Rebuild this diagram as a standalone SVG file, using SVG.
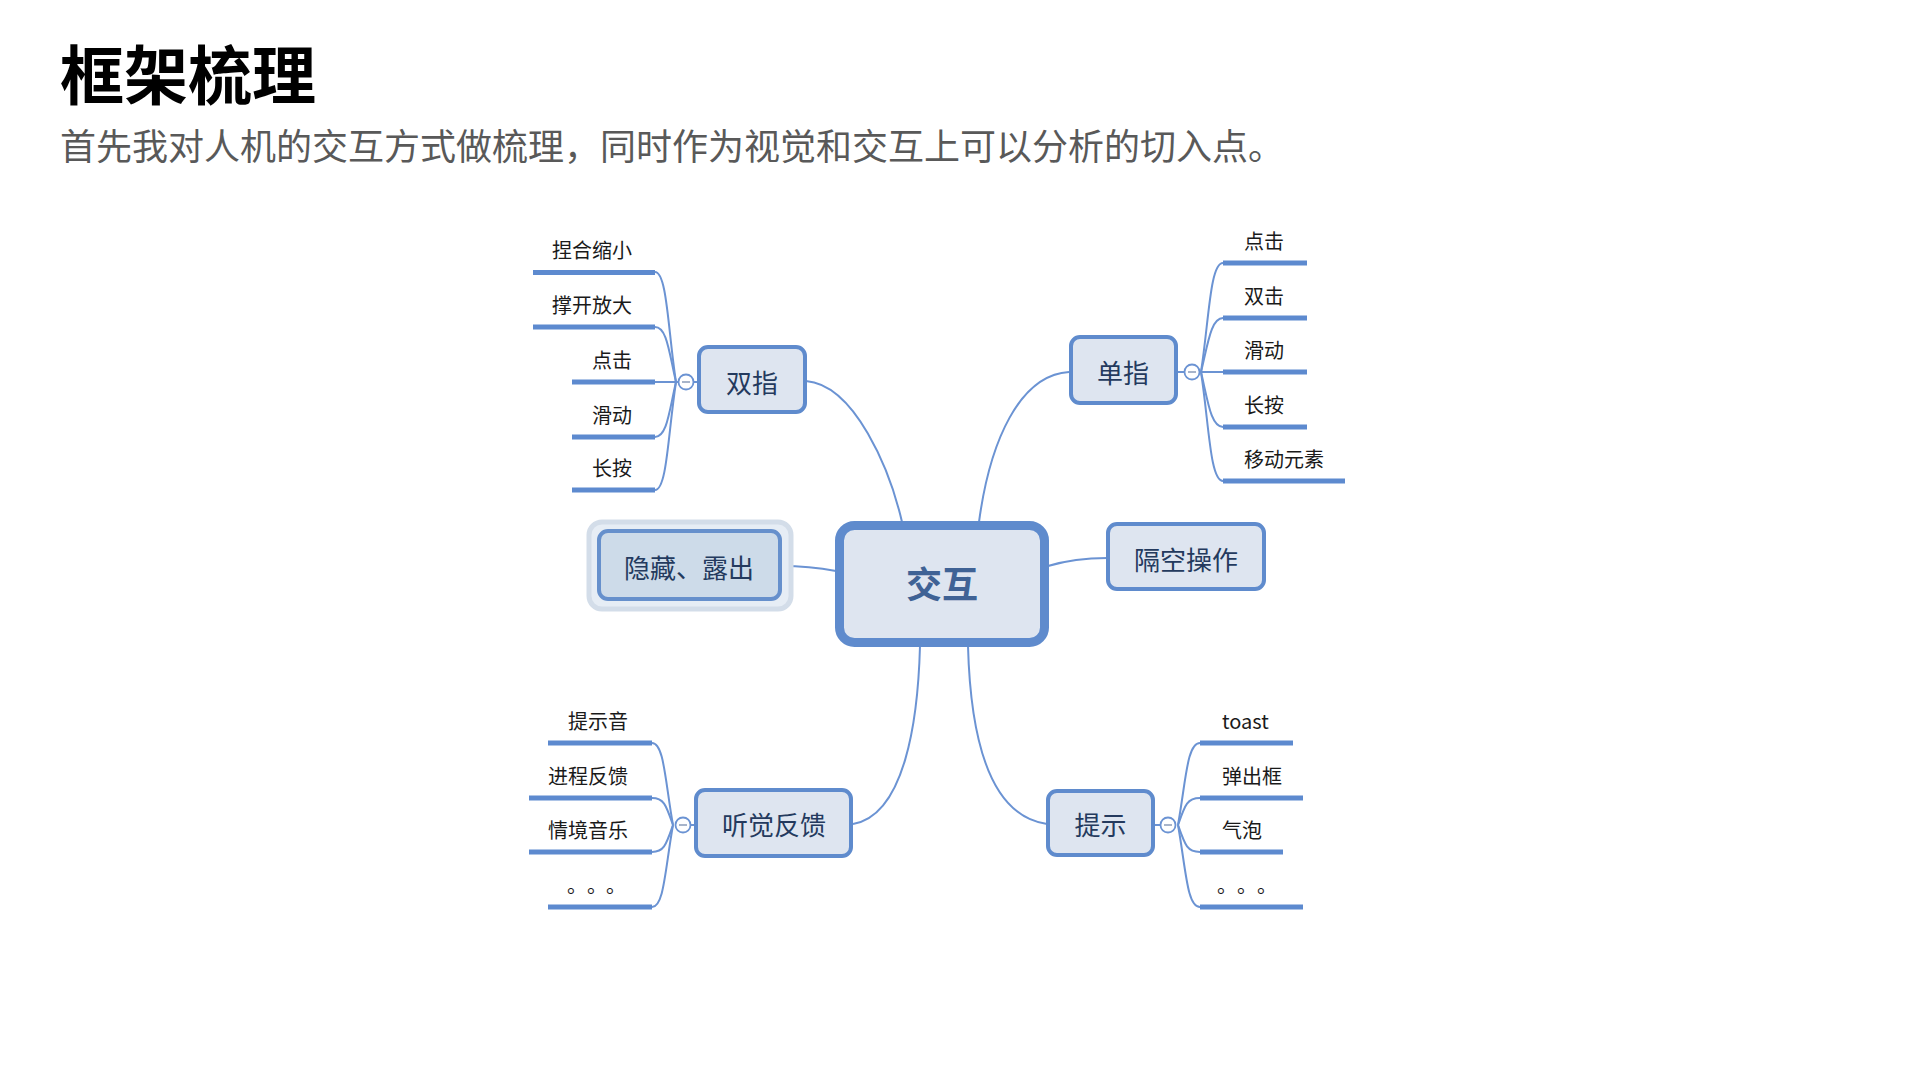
<svg xmlns="http://www.w3.org/2000/svg" width="1920" height="1080" viewBox="0 0 1920 1080">
<style>
text { font-family: "Noto Sans CJK SC", "Liberation Sans", sans-serif; }
.title { font-size: 64px; font-weight: 700; fill: #000; }
.sub { font-size: 36px; fill: #595959; }
.box { fill: #dee5f0; stroke: #5f8bcd; stroke-width: 4; }
.ntext { font-size: 26px; fill: #243a5e; text-anchor: middle; }
.leaf { font-size: 20px; fill: #1a1a1a; }
.ul { stroke: #5d8acf; stroke-width: 5; fill: none; }
.conn { stroke: #6b93d3; stroke-width: 2; fill: none; }
.fold { fill: #fff; stroke: #6b93d3; stroke-width: 1.8; }
.minus { stroke: #8a9bb8; stroke-width: 1.5; }
</style>

<text class="title" x="60" y="99">框架梳理</text>
<text class="sub" x="60" y="160">首先我对人机的交互方式做梳理，同时作为视觉和交互上可以分析的切入点。</text>

<g id="connectors">
  <path class="conn" d="M806,381 C855,385 890,470 902,522"/>
  <path class="conn" d="M979,522 C990,440 1020,375 1069,372"/>
  <path class="conn" d="M1048,566 C1068,560 1085,558 1107,558"/>
  <path class="conn" d="M781,566 C805,566 820,568 836,571"/>
  <path class="conn" d="M920,646 C918,720 905,815 853,824"/>
  <path class="conn" d="M968,646 C970,720 983,815 1047,824"/>
  <!-- 双指 fan -->
  <path class="conn" d="M694,382 L699,382"/>
  <path class="conn" d="M676,382 C668,330 667,272 655,272"/>
  <path class="conn" d="M676,382 C669,352 667,327 655,327"/>
  <path class="conn" d="M678,382 L655,382"/>
  <path class="conn" d="M676,382 C669,412 667,437 655,437"/>
  <path class="conn" d="M676,382 C668,434 667,490 655,490"/>
  <!-- 单指 fan -->
  <path class="conn" d="M1176,372 L1184,372"/>
  <path class="conn" d="M1201,372 C1209,320 1210,263 1223,263"/>
  <path class="conn" d="M1201,372 C1208,343 1211,318 1223,318"/>
  <path class="conn" d="M1200,372 L1223,372"/>
  <path class="conn" d="M1201,372 C1208,402 1211,427 1223,427"/>
  <path class="conn" d="M1201,372 C1209,424 1210,481 1223,481"/>
  <!-- 听觉反馈 fan -->
  <path class="conn" d="M691,825 L696,825"/>
  <path class="conn" d="M673,825 C665,780 664,743 652,743"/>
  <path class="conn" d="M673,825 C666,805 664,798 652,798"/>
  <path class="conn" d="M673,825 C666,845 664,852 652,852"/>
  <path class="conn" d="M673,825 C665,870 664,907 652,907"/>
  <!-- 提示 fan -->
  <path class="conn" d="M1153,825 L1160,825"/>
  <path class="conn" d="M1178,825 C1186,780 1187,743 1200,743"/>
  <path class="conn" d="M1178,825 C1185,805 1187,798 1200,798"/>
  <path class="conn" d="M1178,825 C1185,845 1187,852 1200,852"/>
  <path class="conn" d="M1178,825 C1186,870 1187,907 1200,907"/>
</g>

<g id="node-center">
  <rect x="839.5" y="525.5" width="205" height="117" rx="15" fill="#dee5f0" stroke="#5f8bcd" stroke-width="9"/>
  <text x="942" y="598" text-anchor="middle" font-size="36" font-weight="700" fill="#3f6295">交互</text>
</g>

<g id="node-shuangzhi">
  <rect class="box" x="699" y="347" width="106" height="65" rx="9"/>
  <text class="ntext" x="752" y="393">双指</text>
  <circle class="fold" cx="686" cy="382" r="7.5"/>
  <line class="minus" x1="682" y1="382" x2="690" y2="382"/>
</g>
<g id="leaf-shuangzhi">
  <line class="ul" x1="533" y1="272.5" x2="655" y2="272.5"/>
  <text class="leaf" x="632" y="258" text-anchor="end">捏合缩小</text>
  <line class="ul" x1="533" y1="327" x2="655" y2="327"/>
  <text class="leaf" x="632" y="313" text-anchor="end">撑开放大</text>
  <line class="ul" x1="572" y1="382" x2="655" y2="382"/>
  <text class="leaf" x="632" y="368" text-anchor="end">点击</text>
  <line class="ul" x1="572" y1="437" x2="655" y2="437"/>
  <text class="leaf" x="632" y="423" text-anchor="end">滑动</text>
  <line class="ul" x1="572" y1="490" x2="655" y2="490"/>
  <text class="leaf" x="632" y="476" text-anchor="end">长按</text>
</g>

<g id="node-danzhi">
  <rect class="box" x="1071" y="337" width="105" height="66" rx="9"/>
  <text class="ntext" x="1123" y="383">单指</text>
  <circle class="fold" cx="1192" cy="372" r="7.5"/>
  <line class="minus" x1="1188" y1="372" x2="1196" y2="372"/>
</g>
<g id="leaf-danzhi">
  <line class="ul" x1="1223" y1="263" x2="1307" y2="263"/>
  <text class="leaf" x="1244" y="249">点击</text>
  <line class="ul" x1="1223" y1="318" x2="1307" y2="318"/>
  <text class="leaf" x="1244" y="304">双击</text>
  <line class="ul" x1="1223" y1="372" x2="1307" y2="372"/>
  <text class="leaf" x="1244" y="358">滑动</text>
  <line class="ul" x1="1223" y1="427" x2="1307" y2="427"/>
  <text class="leaf" x="1244" y="413">长按</text>
  <line class="ul" x1="1223" y1="481" x2="1345" y2="481"/>
  <text class="leaf" x="1244" y="467">移动元素</text>
</g>

<g id="node-gekong">
  <rect class="box" x="1108" y="524" width="156" height="65" rx="9"/>
  <text class="ntext" x="1186" y="570">隔空操作</text>
</g>

<g id="node-yincang">
  <rect x="589" y="522" width="202" height="87" rx="13" fill="#e6edf5" stroke="#d3dde9" stroke-width="5"/>
  <rect x="599" y="531" width="181" height="68" rx="9" fill="#cddbe9" stroke="#6690cc" stroke-width="4"/>
  <text class="ntext" x="689" y="578" fill="#3b5478">隐藏、露出</text>
</g>

<g id="node-tingjue">
  <rect class="box" x="696" y="790" width="155" height="66" rx="9"/>
  <text class="ntext" x="774" y="835">听觉反馈</text>
  <circle class="fold" cx="683" cy="825" r="7.5"/>
  <line class="minus" x1="679" y1="825" x2="687" y2="825"/>
</g>
<g id="leaf-tingjue">
  <line class="ul" x1="548" y1="743" x2="652" y2="743"/>
  <text class="leaf" x="628" y="729" text-anchor="end">提示音</text>
  <line class="ul" x1="529" y1="798" x2="652" y2="798"/>
  <text class="leaf" x="628" y="784" text-anchor="end">进程反馈</text>
  <line class="ul" x1="529" y1="852" x2="652" y2="852"/>
  <text class="leaf" x="628" y="838" text-anchor="end">情境音乐</text>
  <line class="ul" x1="548" y1="907" x2="652" y2="907"/>
  <text class="leaf" y="893"><tspan x="567">。</tspan><tspan x="587">。</tspan><tspan x="606">。</tspan></text>
</g>

<g id="node-tishi">
  <rect class="box" x="1048" y="791" width="105" height="64" rx="9"/>
  <text class="ntext" x="1100.5" y="835">提示</text>
  <circle class="fold" cx="1168" cy="825" r="7.5"/>
  <line class="minus" x1="1164" y1="825" x2="1172" y2="825"/>
</g>
<g id="leaf-tishi">
  <line class="ul" x1="1200" y1="743" x2="1293" y2="743"/>
  <text class="leaf" x="1222" y="729">toast</text>
  <line class="ul" x1="1200" y1="798" x2="1303" y2="798"/>
  <text class="leaf" x="1222" y="784">弹出框</text>
  <line class="ul" x1="1200" y1="852" x2="1283" y2="852"/>
  <text class="leaf" x="1222" y="838">气泡</text>
  <line class="ul" x1="1200" y1="907" x2="1303" y2="907"/>
  <text class="leaf" y="893"><tspan x="1217">。</tspan><tspan x="1237">。</tspan><tspan x="1257">。</tspan></text>
</g>
</svg>
